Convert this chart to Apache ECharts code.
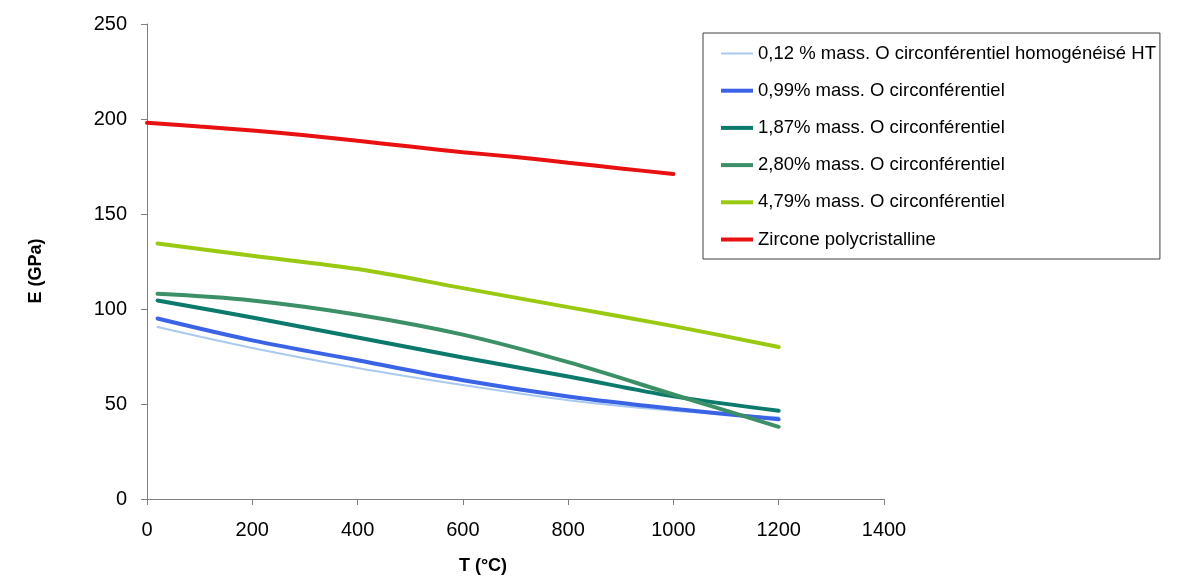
<!DOCTYPE html>
<html>
<head>
<meta charset="utf-8">
<script src="https://cdn.jsdelivr.net/npm/echarts@6/dist/echarts.min.js"></script>
<style>
html,body{margin:0;padding:0;background:#fff;}
#chart{width:1184px;height:581px;}
</style>
</head>
<body>
<div id="chart"></div>
<script>
// Temperatures (°C)
const tempsSamples = [20, 200, 400, 600, 800, 1000, 1200];
const tempsZircone = [0, 100, 200, 300, 400, 500, 600, 700, 800, 900, 1000];

// Young's modulus E (GPa)
const seriesNames = [
  "0,12 % mass. O circonférentiel homogénéisé HT",
  "0,99% mass. O circonférentiel",
  "1,87% mass. O circonférentiel",
  "2,80% mass. O circonférentiel",
  "4,79% mass. O circonférentiel",
  "Zircone polycristalline"
];
const e012 = [90.5, 79.5, 69, 60, 52, 46.5, 43];
const e099 = [95, 83.5, 73, 62.5, 54, 47.5, 42];
const e187 = [104.5, 95.5, 85, 74.5, 64.5, 54, 46.5];
const e280 = [108, 104.5, 97, 86.5, 72, 55, 38];
const e479 = [134.5, 128, 121, 111, 101, 91, 80];
const eZircone = [198, 196, 194, 191.5, 188.5, 185.5, 182.5, 180, 177, 174, 171];

const xTicks = [0, 200, 400, 600, 800, 1000, 1200, 1400];
const yTicks = [0, 50, 100, 150, 200, 250];
const xTitle = 'T (°C)';
const yTitle = 'E (GPa)';

const colors = ["#a9c9ee", "#3b63e6", "#0b7a6c", "#3c9068", "#99c910", "#e81010"];
const widths = [2, 4, 4, 4, 4, 4];

function pairs(xs, ys) { return xs.map((x, i) => [x, ys[i]]); }
const dataSets = [
  pairs(tempsSamples, e012),
  pairs(tempsSamples, e099),
  pairs(tempsSamples, e187),
  pairs(tempsSamples, e280),
  pairs(tempsSamples, e479),
  pairs(tempsZircone, eZircone)
];

function lineIcon(w) {
  const h = 14, y0 = (h - w) / 2, y1 = y0 + w;
  return 'path://M0,0 M0,' + h + ' M0,' + y0 + ' L32,' + y0 + ' L32,' + y1 + ' L0,' + y1 + ' Z';
}

const chart = echarts.init(document.getElementById('chart'), null, {renderer: 'canvas'});
const font = "'Liberation Sans', Arial, sans-serif";
chart.setOption({
  animation: false,
  backgroundColor: '#ffffff',
  grid: {left: 147, right: 300, top: 24, bottom: 82, containLabel: false},
  xAxis: {
    type: 'value', min: xTicks[0], max: xTicks[xTicks.length - 1], interval: 200,
    axisLine: {show: true, onZero: false, lineStyle: {color: '#7f7f7f', width: 1}},
    axisTick: {show: true, length: 6, lineStyle: {color: '#7f7f7f'}},
    axisLabel: {fontFamily: font, fontSize: 20, color: '#000', margin: 21,
      formatter: (v) => String(v)},
    splitLine: {show: false}
  },
  yAxis: {
    type: 'value', min: yTicks[0], max: yTicks[yTicks.length - 1], interval: 50,
    axisLine: {show: true, lineStyle: {color: '#7f7f7f', width: 1}},
    axisTick: {show: true, length: 6, lineStyle: {color: '#7f7f7f'}},
    axisLabel: {fontFamily: font, fontSize: 20, color: '#000', margin: 20,
      formatter: (v) => String(v)},
    splitLine: {show: false}
  },
  graphic: [
    {type: 'text', position: [483, 566],
      style: {text: xTitle, x: 0, y: 0, fontFamily: font, fontSize: 18, fontWeight: 'bold',
        fill: '#000', align: 'center', verticalAlign: 'middle'}},
    {type: 'text', position: [36, 271], rotation: Math.PI / 2,
      style: {text: yTitle, x: 0, y: 0, fontFamily: font, fontSize: 18, fontWeight: 'bold',
        fill: '#000', align: 'center', verticalAlign: 'middle'}}
  ],
  legend: {
    orient: 'vertical', left: 703, top: 33,
    backgroundColor: '#fff', borderColor: '#404040', borderWidth: 1,
    padding: [11, 4, 10, 18],
    itemWidth: 32, itemHeight: 14, itemGap: 18.2,
    textStyle: {fontFamily: font, fontSize: 18.5, color: '#000'},
    data: seriesNames.map((n, i) => ({name: n, icon: lineIcon(widths[i])}))
  },
  series: dataSets.map((d, i) => ({
    name: seriesNames[i], type: 'line', data: d, smooth: 0.35,
    symbol: 'none', showSymbol: false,
    lineStyle: {color: colors[i], width: widths[i], cap: 'round'},
    itemStyle: {color: colors[i]}
  }))
});
</script>
</body>
</html>
